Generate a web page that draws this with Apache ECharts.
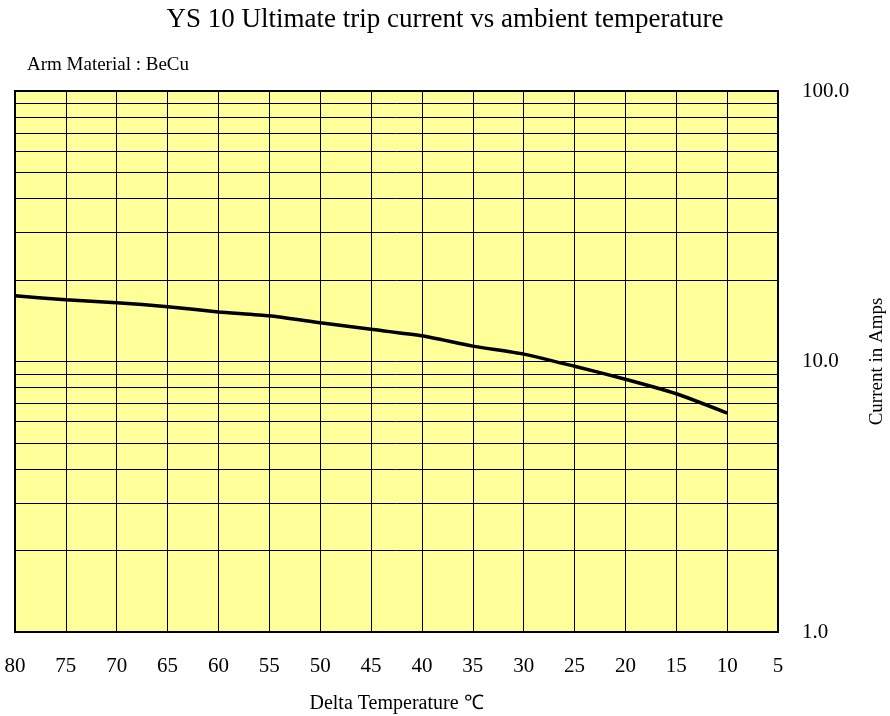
<!DOCTYPE html>
<html>
<head>
<meta charset="utf-8">
<script src="https://cdn.jsdelivr.net/npm/echarts@6/dist/echarts.min.js"></script>
<style>html,body{margin:0;padding:0;background:#fff;}#c{width:890px;height:716px;}</style>
</head>
<body>
<div id="c"></div>
<script>
const temps = [80, 75, 70, 65, 60, 55, 50, 45, 40, 35, 30, 25, 20, 15, 10];
const current = [17.5, 16.9, 16.5, 15.95, 15.25, 14.75, 13.9, 13.15, 12.45, 11.4, 10.65, 9.6, 8.6, 7.6, 6.45];
const minorGrid = [2, 3, 4, 5, 6, 7, 8, 9, 20, 30, 40, 50, 60, 70, 80, 90];
const yTicks = [1, 10, 100];

const FONT = 'Liberation Serif';
const chart = echarts.init(document.getElementById('c'));
chart.setOption({
  animation: false,
  backgroundColor: '#ffffff',
  title: [
    { text: 'YS 10 Ultimate trip current vs ambient temperature', left: 'center', top: 1,
      textStyle: { fontFamily: FONT, fontSize: 27, fontWeight: 'normal', color: '#000' } },
    { text: 'Arm Material : BeCu', left: 22, top: 51,
      textStyle: { fontFamily: FONT, fontSize: 19, fontWeight: 'normal', color: '#000' } }
  ],
  grid: { left: 15, right: 112, top: 91, bottom: 84, show: true, backgroundColor: '#FFFF99',
    borderColor: '#000', borderWidth: 2, outerBoundsMode: 'none', containLabel: false },
  xAxis: {
    type: 'value', inverse: true, min: 5, max: 80, interval: 5,
    name: 'Delta Temperature ℃', nameLocation: 'middle', nameGap: 62,
    nameTextStyle: { fontFamily: FONT, fontSize: 20, color: '#000' },
    axisLine: { show: false }, axisTick: { show: false },
    axisLabel: { fontFamily: FONT, fontSize: 21, color: '#000', margin: 24 },
    splitLine: { show: true, lineStyle: { color: '#000', width: 1 } }
  },
  yAxis: {
    type: 'log', logBase: 10, min: 1, max: 100, position: 'right',
    name: 'Current in Amps', nameLocation: 'middle', nameGap: 90, nameRotate: 90,
    nameTextStyle: { fontFamily: FONT, fontSize: 19, color: '#000' },
    axisLine: { show: false }, axisTick: { show: false },
    axisLabel: { fontFamily: FONT, fontSize: 21, color: '#000', margin: 24,
      formatter: v => yTicks.includes(Math.round(v)) ? Number(v).toFixed(1) : '' },
    splitLine: { show: true, lineStyle: { color: '#000', width: 1 } }
  },
  series: [
    { type: 'line', data: [], z: 1, silent: true,
      markLine: { silent: true, symbol: ['none', 'none'], label: { show: false },
        lineStyle: { color: '#000', width: 1, type: 'solid' },
        emphasis: { disabled: true },
        data: minorGrid.map(v => ({ yAxis: v })) } },
    { type: 'line', z: 5, showSymbol: false, smooth: 0.2,
      lineStyle: { color: '#000', width: 3.5 },
      data: temps.map((t, i) => [t, current[i]]) }
  ]
});
</script>
</body>
</html>
